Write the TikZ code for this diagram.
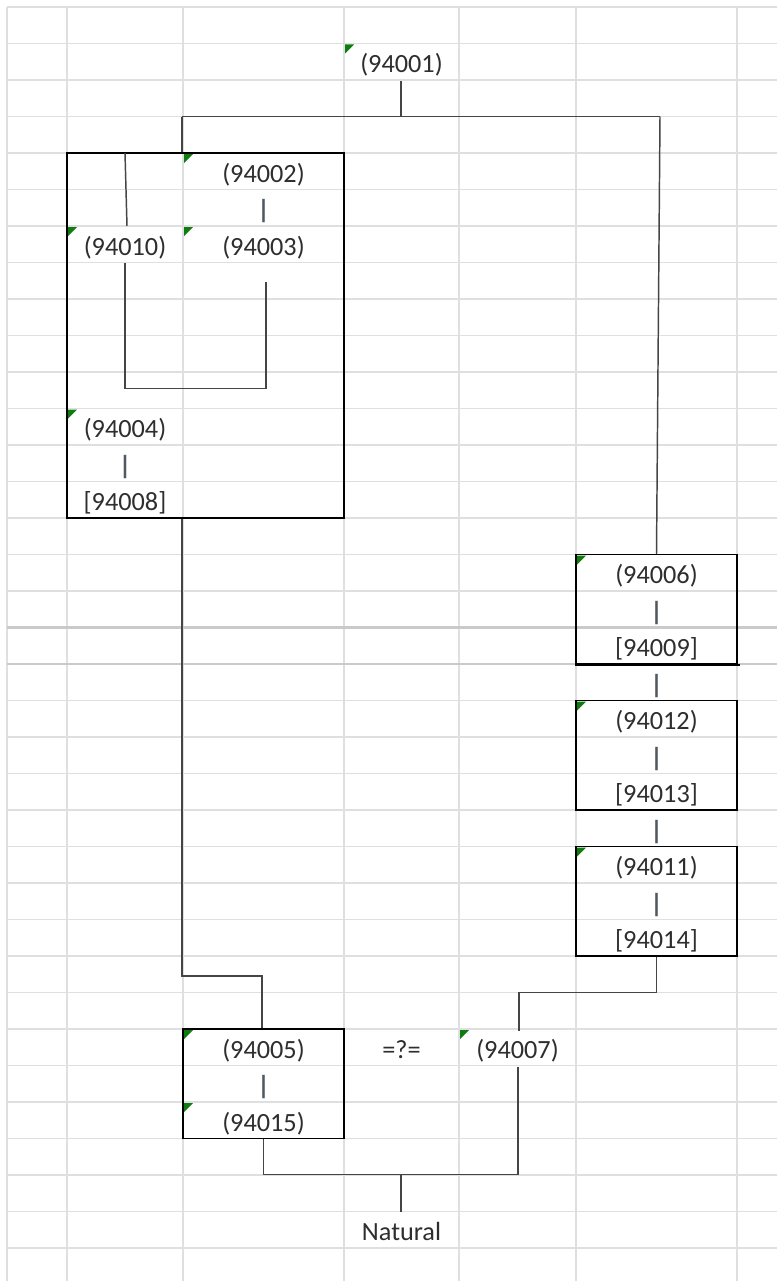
\documentclass[tikz,border=0pt]{standalone}
\usepackage{fontspec}
\setmainfont{Carlito}
\usetikzlibrary{fit}
\definecolor{gridc}{HTML}{DDDFE0}
\definecolor{gridd}{HTML}{C8CACB}
\definecolor{connc}{HTML}{454545}
\definecolor{txtc}{HTML}{2E2E2E}
\definecolor{barc}{HTML}{505860}
\definecolor{flagc}{HTML}{107C10}
\begin{document}
\begin{tikzpicture}[x=0.75pt,y=-0.75pt,
  gridline/.style={draw=gridc,line width=0.9pt},
  pageline/.style={draw=gridd,line width=1.6pt},
  lbl/.style={anchor=base,inner sep=0pt,yshift=-1.1pt,text=txtc,font=\fontsize{19.7}{23}\selectfont},
  bar/.style={lbl,text=barc,font=\fontsize{19.7}{23}\selectfont\bfseries},
  boxnode/.style={draw=black,line width=1.1pt,inner sep=0pt},
  conn/.style={draw=connc,line width=1.1pt},
  flag/.style={fill=flagc}]
\useasboundingbox (0,0) rectangle (777,1281);
\fill[white] (0,0) rectangle (777,1281);

% worksheet grid
\foreach \k in {0,...,34}{\draw[gridline] (7,{7+36.5*\k}) -- (777,{7+36.5*\k});}
\foreach \x in {7,67,183,344,459,576,737}{\draw[gridline] (\x,7) -- (\x,1281);}
\draw[pageline] (7,627.5) -- (777,627.5);
\draw[pageline] (7,664) -- (777,664);

% green cell markers
\foreach \x/\y in {344/43.5, 183/153, 183/226, 67/226, 67/408.5, 576/554.5,
  576/700.5, 576/846.5, 183/1029, 183/1102, 459/1029}
  {\fill[flag] ([shift={(1,1)}]\x,\y) -- ++(9,0) -- ++(-9,9) -- cycle;}

% labels
\node[lbl] (n94001) at (401.5,71.5) {(94001)};
\node[lbl] (n94002) at (263.5,181) {(94002)};
\node[bar] (v1) at (263.5,217.5) {|};
\node[lbl] (n94003) at (263.5,254) {(94003)};
\node[lbl] (n94010) at (125,254) {(94010)};
\node[lbl] (n94004) at (125,436.5) {(94004)};
\node[bar] (v2) at (125,473) {|};
\node[lbl] (n94008) at (125,509.5) {[94008]};

\node[lbl] (n94006) at (656.5,582.5) {(94006)};
\node[bar] (v3) at (656.5,619) {|};
\node[lbl] (n94009) at (656.5,655.5) {[94009]};
\node[bar] (v4) at (656.5,692) {|};
\node[lbl] (n94012) at (656.5,728.5) {(94012)};
\node[bar] (v5) at (656.5,765) {|};
\node[lbl] (n94013) at (656.5,801.5) {[94013]};
\node[bar] (v6) at (656.5,838) {|};
\node[lbl] (n94011) at (656.5,874.5) {(94011)};
\node[bar] (v7) at (656.5,911) {|};
\node[lbl] (n94014) at (656.5,947.5) {[94014]};

\node[lbl] (n94005) at (263.5,1057) {(94005)};
\node[lbl] (cmp) at (401.5,1057) {=?=};
\node[lbl] (n94007) at (517.5,1057) {(94007)};
\node[bar] (v8) at (263.5,1093.5) {|};
\node[lbl] (n94015) at (263.5,1130) {(94015)};
\node[lbl] (nat) at (401.5,1239.5) {Natural};

% boxes
\node[boxnode, fit={(67,153) (344,518)}] (bigbox) {};
\node[boxnode, fit={(576,554.5) (737,664)}] (b6) {};
\node[boxnode, fit={(576,700.5) (737,810)}] (b12) {};
\node[boxnode, fit={(576,846.5) (737,956)}] (b11) {};
\node[boxnode, fit={(183,1029) (344,1138.5)}] (b5) {};
\draw[draw=black,line width=1.6pt] (b6.south west) -- ([xshift=1.5pt]b6.south east);

% connector points
\coordinate (t1) at (401,81);
\coordinate (j1) at (401,116.5);
\coordinate (jL) at (182,116.5);
\coordinate (jR) at (660,116.5);
\coordinate (k1) at (125,153);
\coordinate (k2) at (127,226);
\coordinate (l1) at (125,263);
\coordinate (lb1) at (125,388.5);
\coordinate (lb2) at (266,388.5);
\coordinate (l2) at (266,282);
\coordinate (m1) at (262,976);
\coordinate (r1) at (519,992.5);
\coordinate (r2) at (519,1031);
\coordinate (s1) at (518,1174.5);
\coordinate (s2) at (518,1067);
\coordinate (s3) at (401,1174.5);
\coordinate (s4) at (401,1211.5);

% connectors
\draw[conn] (t1) -- (j1);
\draw[conn] (jL) -- (jR);
\draw[conn] (jL) -- (bigbox.north -| jL);
\draw[conn] (jR) -- (b6.north);
\draw[conn] (k1) -- (k2);
\draw[conn] (l1) -- (lb1) -- (lb2) -- (l2);
\draw[conn] (bigbox.south -| jL) |- (m1) -- (m1 |- b5.north);
\draw[conn] (b11.south) |- (r1) -- (r2);
\draw[conn] (b5.south) |- (s1) -- (s2);
\draw[conn] (s3) -- (s4);
\end{tikzpicture}
\end{document}
